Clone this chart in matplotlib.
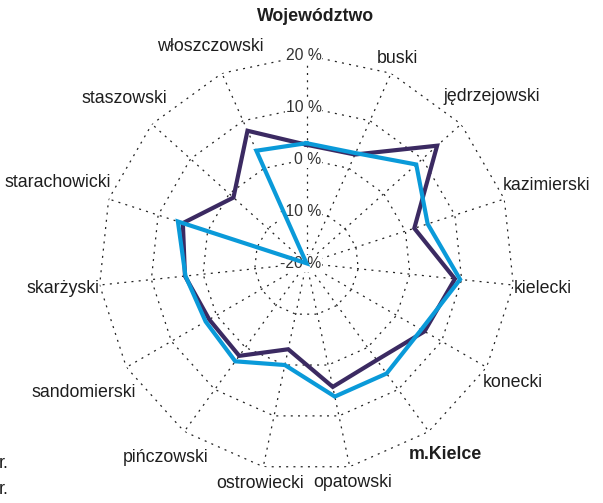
import numpy as np
import matplotlib
matplotlib.use("Agg")
import matplotlib.pyplot as plt

plt.rcParams['font.family'] = ['Liberation Sans', 'DejaVu Sans']

categories = ["Województwo", "buski", "jędrzejowski", "kazimierski", "kielecki",
              "konecki", "m.Kielce", "opatowski", "ostrowiecki", "pińczowski",
              "sandomierski", "skarżyski", "starachowicki", "staszowski",
              "włoszczowski"]
bold_categories = ["Województwo", "m.Kielce"]

series_dark = [2.8, 2.9, 13.8, 1.8, 8.7, 6.2, 3.0, 4.3, -3.1, 2.0, 1.6, 3.5, 5.0, -1.1, 7.9]
series_blue = [3.1, 3.2, 8.4, 4.5, 9.7, 5.5, 6.2, 6.2, 0.0, 3.3, 2.4, 3.4, 6.0, -20.0, 3.7]

r_ticks = [-20, -10, 0, 10, 20]
r_tick_labels = ["-20 %", "-10 %", "0 %", "10 %", "20 %"]
legend_labels = ["r.", "r."]

DARK = "#3b2a62"
BLUE = "#0a9ad9"
TXT = "#1e1e1e"

W, H, DPI = 603, 503, 100
fig = plt.figure(figsize=(W / DPI, H / DPI), dpi=DPI)
cx, cy, R = 306.5, 263.3, 208.0
ax = fig.add_axes([(cx - R) / W, (H - cy - R) / H, 2 * R / W, 2 * R / H],
                  projection='polar')
ax.set_theta_offset(np.pi / 2)
ax.set_theta_direction(-1)
ax.set_ylim(r_ticks[0], r_ticks[-1])
ax.grid(False)
ax.set_xticks([])
ax.set_yticks([])
ax.spines['polar'].set_visible(False)
ax.patch.set_alpha(0)

n = len(categories)
theta = np.arange(n) * 2 * np.pi / n
theta_c = np.append(theta, theta[0])

grid_kw = dict(color='#222222', lw=0.9, linestyle=(0, (1.6, 4.2)), zorder=1)
for rv in r_ticks[1:]:
    ax.plot(theta_c, [rv] * (n + 1), **grid_kw)
for th in theta:
    ax.plot([th, th], [r_ticks[0], r_ticks[-1]], **grid_kw)

# radial value labels
for rv, lab in zip(r_ticks, r_tick_labels):
    ax.annotate(lab, xy=(0, rv), xycoords='data', xytext=(15, 0),
                textcoords='offset pixels', ha='right', va='center',
                fontsize=11.3, color='#333333', zorder=2.5, annotation_clip=False,
                bbox=dict(boxstyle='square,pad=0.05', fc='white', ec='none'))

ax.plot(theta_c, np.append(series_dark, series_dark[0]), color=DARK, lw=3.0,
        zorder=3, solid_joinstyle='miter')
ax.plot(theta_c, np.append(series_blue, series_blue[0]), color=BLUE, lw=3.0,
        zorder=4, solid_joinstyle='miter')

# category labels
renderer = fig.canvas.get_renderer()
nudge = {0: (9, 30)}
for i, (cat, th) in enumerate(zip(categories, theta)):
    bold = cat in bold_categories
    ann = ax.annotate(cat, xy=(th, r_ticks[-1]), xycoords='data', xytext=(0, 0),
                      textcoords='offset pixels', ha='center', va='center',
                      fontsize=12.8 if bold else 12.8, color=TXT,
                      annotation_clip=False,
                      fontweight='bold' if bold else 'normal')
    bb = ann.get_window_extent(renderer)
    s, c = np.sin(th), np.cos(th)
    d = 0.0 + bb.width / 2 * abs(s) + bb.height / 2 * abs(c)
    nx, ny = nudge.get(i, (0, 0))
    ann.xyann = (d * s + nx, d * c + ny)

for k, lab in enumerate(legend_labels):
    fig.text(9 / W, 1 - (463 + 27 * k) / H, lab, ha='right', va='center',
             fontsize=13, color=TXT)

fig.savefig("out.png", dpi=DPI, facecolor='white')
